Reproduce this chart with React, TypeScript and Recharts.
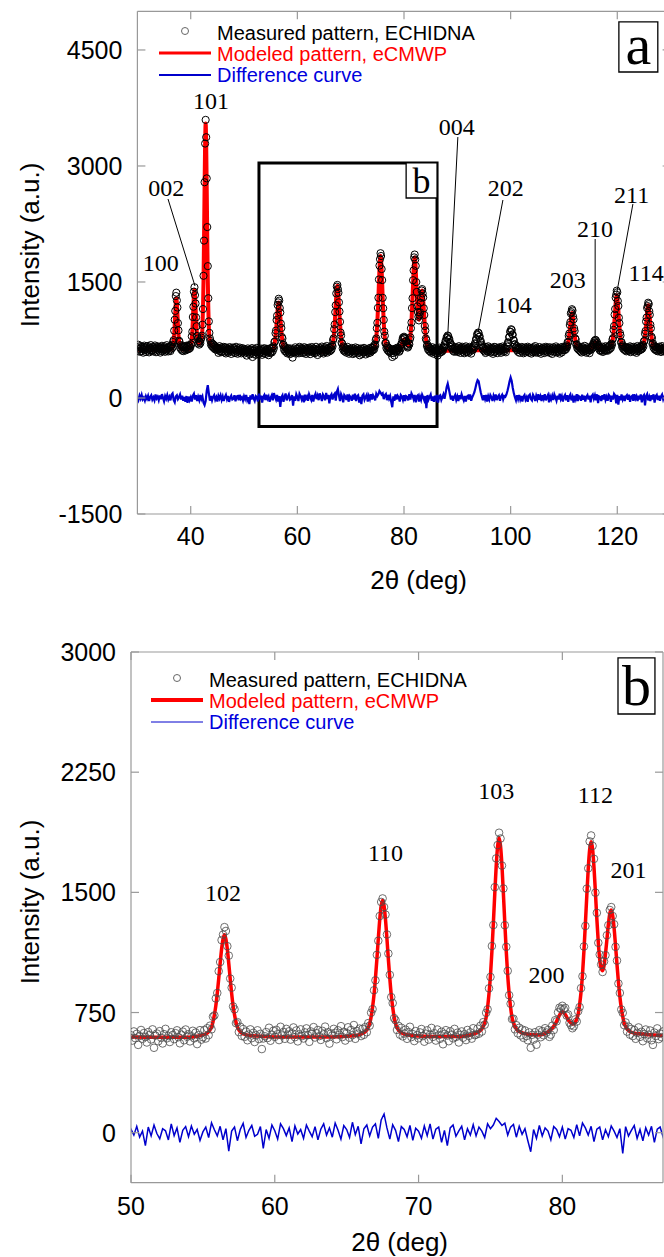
import React from 'react';
import {
  ComposedChart, Line, Scatter, XAxis, YAxis,
  ReferenceArea, ReferenceLine, ReferenceDot,
} from 'recharts';

const SANS = '"Liberation Sans", Arial, sans-serif';
const SERIF = '"Liberation Serif", "Times New Roman", serif';
const GREY = '#999';

// measured pattern (ECHIDNA), 2θ from 30.0°, one value every 0.1°, one row per degree
const meas30 = [
  655, 612, 688, 634, 598, 671, 645, 603, 662, 629,
  641, 586, 659, 677, 620, 648, 595, 666, 633, 612,
  672, 625, 590, 651, 638, 684, 607, 643, 618, 660,
  601, 654, 633, 679, 615, 592, 648, 667, 626, 639,
  663, 610, 645, 587, 656, 631, 675, 604, 649, 622,
  635, 668, 597, 640, 615, 683, 628, 651, 602, 657,
  621, 665, 607, 672, 638, 689, 651, 724, 748, 871,
  1012, 1126, 1318, 1362, 1262, 1170, 968, 874, 741, 726,
  652, 684, 629, 671, 613, 660, 606, 655, 627, 668,
  614, 650, 677, 625, 663, 631, 679, 636, 672, 648,
];
const meas40 = [
  697, 690, 798, 858, 1047, 1180, 1375, 1432, 1330, 1222,
  1042, 928, 801, 768, 705, 736, 690, 727, 708, 756,
  781, 806, 948, 1150, 1580, 2035, 2790, 3290, 3596, 3372,
  2840, 2210, 1705, 1290, 990, 842, 770, 738, 690, 712,
  668, 701, 655, 689, 642, 674, 628, 661, 637, 652,
  619, 648, 583, 633, 670, 607, 641, 592, 655, 626,
  602, 638, 661, 589, 627, 654, 576, 615, 649, 608,
  633, 587, 621, 658, 604, 639, 570, 626, 611, 652,
  595, 630, 647, 581, 618, 662, 599, 624, 572, 641,
  614, 588, 652, 606, 631, 577, 620, 645, 598, 628,
];
const meas50 = [
  608, 575, 632, 590, 617, 548, 603, 641, 586, 622,
  597, 563, 628, 611, 582, 645, 530, 606, 619, 571,
  634, 592, 557, 615, 648, 589, 603, 566, 627, 610,
  584, 621, 639, 596, 558, 612, 631, 577, 644, 599,
  615, 570, 602, 636, 589, 625, 553, 609, 640, 581,
  596, 641, 588, 652, 609, 668, 645, 724, 732, 838,
  872, 1008, 1065, 1202, 1236, 1283, 1259, 1164, 1105, 962,
  905, 788, 770, 684, 690, 628, 661, 604, 647, 598,
  631, 577, 612, 645, 590, 623, 566, 608, 639, 584,
  617, 522, 588, 602, 628, 591, 655, 574, 611, 636,
];
const meas60 = [
  598, 642, 615, 578, 661, 607, 629, 586, 648, 612,
  633, 581, 620, 657, 596, 638, 570, 614, 645, 603,
  588, 626, 651, 609, 567, 632, 618, 659, 594, 621,
  641, 603, 579, 636, 614, 662, 590, 627, 556, 619,
  607, 648, 624, 583, 639, 611, 665, 597, 630, 575,
  622, 658, 593, 641, 609, 672, 586, 635, 618, 650,
  603, 648, 611, 659, 627, 684, 668, 749, 771, 889,
  951, 1110, 1198, 1352, 1440, 1462, 1408, 1361, 1237, 1118,
  985, 846, 809, 715, 702, 641, 667, 612, 655, 601,
  619, 643, 586, 628, 661, 597, 615, 572, 634, 608,
];
const meas70 = [
  589, 626, 647, 603, 568, 618, 639, 581, 612, 654,
  598, 621, 575, 644, 609, 586, 630, 552, 617, 640,
  606, 571, 633, 612, 589, 648, 597, 624, 563, 611,
  632, 593, 615, 578, 641, 604, 626, 587, 652, 609,
  612, 649, 618, 667, 631, 690, 674, 748, 770, 901,
  972, 1165, 1296, 1532, 1712, 1795, 1872, 1836, 1667, 1524,
  1295, 1160, 1010, 858, 805, 709, 711, 645, 671, 620,
  655, 607, 644, 592, 638, 603, 577, 626, 530, 611,
  581, 627, 549, 612, 640, 596, 634, 608, 652, 625,
  641, 598, 612, 668, 641, 702, 695, 751, 780, 772,
];
const meas80 = [
  792, 770, 779, 731, 738, 686, 671, 652, 664, 707,
  694, 758, 784, 902, 976, 1162, 1290, 1523, 1650, 1818,
  1855, 1790, 1709, 1498, 1372, 1185, 1112, 1050, 1003, 1069,
  1108, 1232, 1295, 1390, 1408, 1352, 1301, 1160, 1074, 931,
  872, 769, 748, 671, 688, 631, 662, 612, 648, 603,
  641, 586, 623, 657, 598, 630, 571, 616, 644, 589,
  612, 638, 577, 548, 625, 603, 651, 584, 619, 596,
  632, 598, 641, 615, 660, 648, 694, 681, 740, 731,
  786, 776, 808, 799, 758, 762, 705, 713, 660, 684,
  638, 667, 611, 645, 598, 632, 659, 605, 641, 618,
];
const meas90 = [
  652, 594, 628, 670, 609, 637, 583, 646, 621, 663,
  600, 638, 615, 579, 654, 627, 668, 592, 631, 610,
  645, 587, 623, 661, 603, 636, 574, 649, 618, 657,
  628, 671, 655, 708, 697, 762, 759, 823, 812, 846,
  838, 791, 794, 728, 736, 671, 689, 640, 662, 618,
  647, 603, 631, 582, 659, 614, 640, 596, 668, 625,
  611, 650, 588, 634, 602, 645, 627, 571, 638, 661,
  593, 627, 656, 608, 639, 580, 622, 648, 604, 633,
  657, 612, 584, 641, 620, 666, 598, 629, 651, 607,
  632, 591, 638, 681, 664, 720, 714, 785, 791, 858,
];
const meas100 = [
  852, 889, 878, 823, 817, 749, 745, 688, 697, 641,
  650, 674, 618, 639, 596, 655, 627, 583, 646, 612,
  634, 660, 601, 625, 578, 642, 617, 653, 590, 629,
  606, 641, 663, 597, 628, 585, 650, 613, 637, 574,
  648, 619, 592, 656, 630, 604, 671, 588, 625, 643,
  611, 585, 638, 620, 659, 596, 634, 572, 642, 617,
  629, 653, 604, 581, 640, 615, 662, 598, 623, 650,
  592, 636, 619, 657, 583, 628, 606, 645, 570, 631,
  655, 609, 640, 596, 622, 667, 589, 634, 612, 648,
  601, 638, 574, 627, 653, 615, 589, 660, 623, 642,
];
const meas110 = [
  617, 658, 621, 669, 634, 681, 660, 724, 718, 805,
  833, 944, 981, 1093, 1110, 1148, 1131, 1055, 1017, 902,
  866, 771, 756, 688, 695, 644, 670, 628, 659, 616,
  649, 603, 636, 588, 662, 621, 645, 597, 630, 674,
  612, 640, 585, 627, 656, 601, 638, 619, 580, 647,
  621, 659, 632, 676, 655, 704, 690, 737, 718, 752,
  744, 703, 721, 670, 689, 641, 663, 618, 652, 607,
  641, 618, 663, 595, 637, 652, 609, 628, 670, 614,
  623, 655, 611, 664, 628, 671, 634, 679, 648, 702,
  686, 757, 774, 881, 931, 1078, 1150, 1298, 1336, 1388,
];
const meas120 = [
  1367, 1255, 1190, 1038, 968, 840, 809, 719, 722, 664,
  683, 639, 668, 625, 659, 616, 648, 603, 651, 628,
  654, 607, 641, 619, 668, 593, 632, 657, 611, 640,
  625, 662, 598, 636, 613, 650, 584, 629, 672, 606,
  649, 615, 660, 622, 665, 628, 673, 639, 688, 667,
  733, 740, 832, 866, 989, 1040, 1163, 1188, 1232, 1214,
  1122, 1076, 948, 901, 793, 774, 698, 706, 652, 675,
  631, 662, 620, 658, 611, 649, 603, 642, 626, 664,
  618, 647, 595, 633, 671, 608, 640, 621, 655, 599,
  629, 652, 604, 638, 617, 660, 592, 635, 648, 611,
];

// difference curve, 2θ from 30.0°, one value every 0.2°
const diff30 = [
  12, -25, 31, -8, 40, -18, 5, -35, 22, -12,
  28, -40, 15, 36, -22, 8, -30, 45, -5, 18,
  -28, 33, -15, 50, 2, -42, 25, -10, 38, -20,
  15, -30, 42, 60, -25, -55, 20, 35, -15, 10,
  45, -20, 30, -35, 12, -50, 25, -62, 18, -30,
];
const diff40 = [
  8, -45, 30, 55, -20, 35, -40, 15, -28, 40,
  -15, 20, -60, -90, -40, 90, 165, 60, -35, 25,
  -30, 15, 38, -22, 10, -45, 28, -8, 35, -25,
  20, -38, 12, 42, -15, 28, -50, 5, 30, -20,
  -10, 35, -42, 18, 25, -30, 40, -12, 8, -35,
];
const diff50 = [
  22, -15, 40, -28, 10, -80, 35, -20, 48, -5,
  -38, 25, 12, -45, 55, -18, 30, -60, 15, 38,
  -25, 42, -10, 20, -48, 5, 35, -30, 62, 18,
  -20, 40, -45, 25, -115, 10, 35, -50, 20, 58,
  -30, 15, 45, -22, -10, 38, -98, 20, -35, 48,
];
const diff60 = [
  12, -40, 55, 25, -18, 30, -55, 42, -8, 20,
  -35, 48, 10, -25, 38, -45, 22, 55, -15, 30,
  -28, 60, 15, -40, 45, 20, -30, 65, -12, 40,
  -70, 25, 48, -20, 35, 55, -35, 80, 117, 30,
  -40, 50, 15, -55, 38, 20, -25, 45, -48, 28,
];
const diff70 = [
  10, -35, 42, -18, 55, -40, 22, 35, -60, 15,
  -80, 30, 48, -22, 12, 40, -45, 25, -15, 50,
  -20, 35, 10, -30, 55, 25, 48, 90, 70, 45,
  60, -15, 35, 52, -28, 40, -10, 25, -50, -119,
  20, -35, 45, -20, 30, 10, -45, 38, 20, -25,
];
const diff80 = [
  35, -40, 25, 15, -30, 50, -20, 60, 30, -15,
  40, -55, 22, 35, -45, 18, -25, 42, 10, -30,
  25, -130, 38, -20, 15, 45, -35, 20, -50, 30,
  -15, 40, -60, 22, 35, -25, 12, 48, -10, 60,
  140, 185, 120, 50, -20, 30, -35, 15, 40, -25,
];
const diff90 = [
  20, -40, 35, -15, 48, 5, -30, 25, -45, 18,
  30, -20, 45, -35, 10, 40, 75, 130, 190, 230,
  215, 140, 70, 20, -30, 35, -15, 40, -45, 22,
  -20, 38, 12, -40, 30, -10, 45, -28, 15, 35,
  -35, 20, 42, -18, 25, 15, 45, 90, 150, 215,
];
const diff100 = [
  265, 220, 130, 60, 10, -30, 35, -15, 40, -20,
  25, -45, 18, 38, -22, 10, -50, 30, 45, -12,
  -30, 42, 15, -38, 28, -15, 50, -25, 20, -40,
  35, -10, 48, -30, 12, 40, -55, 22, -18, 30,
  -25, 45, 8, -35, 30, -20, 55, -12, 25, -45,
];
const diff110 = [
  18, 40, -28, 35, -50, 20, 45, -30, 12, -60,
  30, -15, 50, -40, 22, 10, -35, 42, -22, 28,
  -45, 15, 38, -20, 30, -55, 25, 45, -10, 35,
  -30, 48, -65, 20, 12, -40, 35, -18, 50, -25,
  15, -35, 40, 22, -48, 30, -20, 55, 35, -70,
];
const diff120 = [
  40, -85, 25, -30, 45, -15, 30, -40, 18, 35,
  -22, 42, -50, 15, 28, -35, 48, -10, 22, -40,
  30, -18, 45, -55, 20, 38, -95, 25, 50, -30,
  15, -40, 35, -20, 48, -60, 22, 40, -25, 30,
  -35, 20, 45, -15, 30, -50, 25, 10, -40, 35,
];

// modeled pattern (eCMWP), [2θ, intensity]
const modelLow: [number, number][] = [
  [30, 625], [32, 622], [34, 620], [35.5, 621], [36.3, 630], [36.5, 643], [36.7, 683], [36.8, 740],
  [36.9, 824], [37.0, 953], [37.1, 1101], [37.2, 1229], [37.3, 1290], [37.4, 1229], [37.5, 1101],
  [37.6, 953], [37.7, 824], [37.8, 740], [37.9, 683], [38.1, 643], [38.5, 628], [39.2, 626],
  [39.7, 635], [39.9, 648], [40.1, 694], [40.2, 760], [40.3, 858], [40.4, 1008], [40.5, 1180],
  [40.6, 1329], [40.7, 1400], [40.8, 1329], [40.9, 1180], [41.0, 1043], [41.1, 896], [41.2, 801],
  [41.3, 736], [41.5, 701], [41.8, 705], [42.0, 750], [42.1, 810], [42.2, 909], [42.3, 1158],
  [42.4, 1525], [42.5, 2083], [42.6, 2728], [42.7, 3286], [42.8, 3550], [42.9, 3286], [43.0, 2728],
  [43.1, 2083], [43.2, 1525], [43.3, 1158], [43.4, 909], [43.5, 800], [43.6, 738], [43.8, 688],
  [44.1, 668], [44.5, 656], [45, 645], [46, 630], [47.5, 615], [49, 605],
];
const modelMid: [number, number][] = [
  [50, 598], [52, 596], [54, 596], [54.5, 600], [55.1, 614], [55.3, 622], [55.5, 642], [55.6, 659],
  [55.7, 691], [55.8, 736], [55.9, 793], [56.0, 870], [56.1, 960], [56.2, 1056], [56.3, 1145],
  [56.4, 1209], [56.5, 1235], [56.6, 1209], [56.7, 1145], [56.8, 1056], [56.9, 960], [57.0, 870],
  [57.1, 793], [57.2, 736], [57.3, 691], [57.4, 659], [57.5, 642], [57.7, 622], [57.9, 614],
  [58.5, 605], [60, 598], [62, 597], [64, 598], [65.5, 605], [66.1, 620], [66.3, 631], [66.5, 657],
  [66.6, 681], [66.7, 723], [66.8, 783], [66.9, 860], [67.0, 963], [67.1, 1082], [67.2, 1211],
  [67.3, 1330], [67.4, 1416], [67.5, 1450], [67.6, 1416], [67.7, 1330], [67.8, 1211], [67.9, 1082],
  [68.0, 963], [68.1, 860], [68.2, 783], [68.3, 723], [68.4, 681], [68.5, 657], [68.7, 631],
  [68.9, 620], [69.5, 607], [71, 600], [73, 601], [73.6, 610], [74.2, 631], [74.4, 647], [74.6, 686],
  [74.7, 720], [74.8, 782], [74.9, 869], [75.0, 981], [75.1, 1130], [75.2, 1305], [75.3, 1491],
  [75.4, 1666], [75.5, 1790], [75.6, 1840], [75.7, 1790], [75.8, 1666], [75.9, 1491], [76.0, 1305],
  [76.1, 1130], [76.2, 981], [76.3, 869], [76.4, 782], [76.5, 720], [76.6, 686], [76.8, 647],
  [77.0, 631], [77.6, 614], [78.4, 610], [79.0, 628], [79.5, 678], [79.7, 715], [79.8, 733],
  [79.9, 748], [80.0, 755], [80.1, 750], [80.2, 738], [80.3, 722], [80.4, 705], [80.5, 694],
  [80.6, 684], [80.7, 679], [80.8, 680], [80.9, 689], [81.0, 710], [81.1, 740], [81.2, 799],
  [81.3, 878], [81.4, 987], [81.5, 1133], [81.6, 1302], [81.7, 1478], [81.8, 1647], [81.9, 1768],
  [82.0, 1816], [82.1, 1773], [82.2, 1658], [82.3, 1499], [82.4, 1333], [82.5, 1187], [82.6, 1081],
  [82.7, 1026], [82.8, 1011], [82.9, 1042], [83.0, 1116], [83.1, 1207], [83.2, 1299], [83.3, 1367],
  [83.4, 1390], [83.5, 1355], [83.6, 1275], [83.7, 1166], [83.8, 1050], [83.9, 941], [84.0, 849],
  [84.1, 778], [84.2, 724], [84.3, 685], [84.4, 663], [84.5, 648], [84.6, 638], [84.8, 627],
  [85.0, 621], [85.4, 617], [86, 612], [87, 607],
];
const modelHigh: [number, number][] = [
  [88, 610], [90, 614], [94, 616], [98, 618], [102, 619], [106, 620], [109.5, 627], [110.1, 632],
  [110.3, 638], [110.5, 653], [110.6, 666], [110.7, 690], [110.8, 724], [110.9, 767], [111.0, 824],
  [111.1, 892], [111.2, 964], [111.3, 1031], [111.4, 1079], [111.5, 1100], [111.6, 1079],
  [111.7, 1031], [111.8, 964], [111.9, 892], [112.0, 824], [112.1, 767], [112.2, 724], [112.3, 690],
  [112.4, 666], [112.5, 653], [112.7, 638], [112.9, 632], [113.5, 625], [114.5, 622], [114.9, 627],
  [115.3, 650], [115.5, 676], [115.6, 691], [115.7, 707], [115.8, 717], [115.9, 720], [116.0, 717],
  [116.1, 707], [116.2, 691], [116.3, 676], [116.5, 650], [116.9, 630], [117.8, 632], [118.3, 645],
  [118.5, 650], [118.7, 659], [118.9, 681], [119.0, 700], [119.1, 735], [119.2, 784], [119.3, 847],
  [119.4, 931], [119.5, 1029], [119.6, 1134], [119.7, 1232], [119.8, 1302], [119.9, 1330],
  [120.0, 1302], [120.1, 1232], [120.2, 1134], [120.3, 1029], [120.4, 931], [120.5, 847],
  [120.6, 784], [120.7, 735], [120.8, 700], [120.9, 681], [121.1, 659], [121.3, 650], [121.5, 645],
  [122, 638], [123, 632], [123.8, 637], [124.4, 645], [124.6, 652], [124.8, 670], [124.9, 685],
  [125.0, 714], [125.1, 754], [125.2, 805], [125.3, 874], [125.4, 954], [125.5, 1040], [125.6, 1120],
  [125.7, 1177], [125.8, 1200], [125.9, 1177], [126.0, 1120], [126.1, 1040], [126.2, 954],
  [126.3, 874], [126.4, 805], [126.5, 754], [126.6, 714], [126.7, 685], [126.8, 670], [127.0, 652],
  [127.2, 645], [127.8, 637], [129, 632], [130, 630],
];

// reflection labels (hkl) and their positions in data units
const hklA = [
  { t: '100', x: 34.4, y: 1747 }, { t: '002', x: 35.4, y: 2728 }, { t: '101', x: 43.8, y: 3853 },
  { t: '004', x: 89.9, y: 3517 }, { t: '202', x: 99.1, y: 2728 }, { t: '104', x: 100.6, y: 1214 },
  { t: '203', x: 110.7, y: 1538 }, { t: '210', x: 115.8, y: 2198 }, { t: '211', x: 122.7, y: 2637 },
  { t: '114', x: 125.4, y: 1629 },
];
const leadersA = [
  [35.74, 2573, 40.8, 1448], [90.1, 3374, 88.2, 800], [98.55, 2560, 93.9, 850],
  [115.85, 2056, 115.85, 770], [122.93, 2508, 119.9, 1356],
];
const hklB = [
  { t: '102', x: 56.4, y: 1497 }, { t: '110', x: 67.7, y: 1746 }, { t: '103', x: 75.4, y: 2134 },
  { t: '112', x: 82.3, y: 2108 }, { t: '201', x: 84.6, y: 1640 }, { t: '200', x: 78.9, y: 989 },
];

const xTicksA = [40, 60, 80, 100, 120];
const yTicksA = [-1500, 0, 1500, 3000, 4500];
const xTicksB = [50, 60, 70, 80];
const yTicksB = [0, 750, 1500, 2250, 3000];

const toPoints = (vals: number[], start: number, step: number) =>
  vals.map((y, i) => ({ x: Math.round((start + i * step) * 10) / 10, y }));

const measured = toPoints(
  [...meas30, ...meas40, ...meas50, ...meas60, ...meas70, ...meas80, ...meas90, ...meas100, ...meas110, ...meas120],
  30, 0.1,
);
const difference = toPoints(
  [...diff30, ...diff40, ...diff50, ...diff60, ...diff70, ...diff80, ...diff90, ...diff100, ...diff110, ...diff120],
  30, 0.2,
);
const modeled = [...modelLow, ...modelMid, ...modelHigh].map(([x, y]) => ({ x, y }));

const measB = measured.filter((p) => p.x >= 50 && p.x <= 87);
const diffB = difference.filter((p) => p.x >= 49.8 && p.x <= 87.2);
const modelB = modeled.filter((p) => p.x >= 49 && p.x <= 88);

const axisLine = { stroke: GREY, strokeWidth: 1.2 };

const bottomTick = (gap: number) => ({ x, y, payload }: any) => (
  <g>
    <line x1={x} x2={x} y1={y} y2={y - 8} stroke={GREY} strokeWidth={1.2} />
    <text x={x} y={y + gap} dy="0.36em" textAnchor="middle" fontSize={25} fontFamily={SANS} fill="#000">
      {payload.value}
    </text>
  </g>
);
const topTick = ({ x, y }: any) => <line x1={x} x2={x} y1={y} y2={y + 8} stroke={GREY} strokeWidth={1.2} />;
const leftTick = ({ x, y, payload }: any) => (
  <g>
    <line x1={x} x2={x + 8} y1={y} y2={y} stroke={GREY} strokeWidth={1.2} />
    <text x={x - 15} y={y} dy="0.36em" textAnchor="end" fontSize={25} fontFamily={SANS} fill="#000">
      {payload.value}
    </text>
  </g>
);
const rightTick = ({ x, y }: any) => <line x1={x} x2={x - 8} y1={y} y2={y} stroke={GREY} strokeWidth={1.2} />;

const xTitle = (cx: number, cy: number) => () => (
  <text x={cx} y={cy} dy="0.36em" textAnchor="middle" fontSize={26} fontFamily={SANS} fill="#000">
    2θ (deg)
  </text>
);
const yTitle = (cx: number, cy: number) => () => (
  <text x={cx} y={cy} dy="0.36em" textAnchor="middle" fontSize={26} fontFamily={SANS} fill="#000"
    transform={`rotate(-90 ${cx} ${cy})`}>
    Intensity (a.u.)
  </text>
);

const circleA = (p: any) => (
  <circle cx={p.cx} cy={p.cy} r={3.6} fill="none" stroke="#000" strokeWidth={1} />
);
const circleB = (p: any) => (
  <circle cx={p.cx} cy={p.cy} r={3.8} fill="none" stroke="#4a4a4a" strokeWidth={0.8} />
);

const hklLabel = (t: string) => ({ value: t, position: 'center' as const, fontSize: 24, fontFamily: SERIF, fill: '#000' });
const boxLabel = (t: string, size: number, dy: number) => ({
  value: t, position: 'center' as const, fontSize: size, fontFamily: SERIF, fill: '#000', dy,
});

// axes are 1px thick, margins are reduced by 1px so the plot area stays where it is
function PanelA() {
  return (
    <ComposedChart width={700} height={600} margin={{ top: 10.3, right: 28.4, bottom: 85, left: 136.4 }}>
      <XAxis dataKey="x" type="number" domain={[30, 130]} ticks={xTicksA} interval={0} allowDataOverflow
        height={1} tickSize={0} tickMargin={0} tickLine={false} axisLine={axisLine} tick={bottomTick(22)}
        label={xTitle(418.6, 580)} />
      <XAxis xAxisId="top" orientation="top" dataKey="x" type="number" domain={[30, 130]} ticks={xTicksA}
        interval={0} allowDataOverflow height={1} tickSize={0} tickMargin={0} tickLine={false}
        axisLine={axisLine} tick={topTick} />
      <YAxis dataKey="y" type="number" domain={[-1500, 5000]} ticks={yTicksA} interval={0} allowDataOverflow
        width={1} tickSize={0} tickMargin={0} tickLine={false} axisLine={axisLine} tick={leftTick}
        label={yTitle(30, 245)} />
      <YAxis yAxisId="right" orientation="right" type="number" domain={[-1500, 5000]} ticks={yTicksA}
        interval={0} allowDataOverflow width={1} tickSize={0} tickMargin={0} tickLine={false}
        axisLine={axisLine} tick={rightTick} />
      <ReferenceArea x1={52.8} x2={86.2} y1={-370} y2={3040} fill="none" stroke="#000" strokeWidth={3} />
      <ReferenceArea x1={80.4} x2={86.2} y1={2586} y2={3040} fill="#fff" fillOpacity={1} stroke="#000"
        strokeWidth={1.3} label={boxLabel('b', 36, 0)} />
      <ReferenceArea x1={120.3} x2={127.6} y1={4215} y2={4862} fill="#fff" fillOpacity={1} stroke="#000"
        strokeWidth={1.3} label={boxLabel('a', 58, -4)} />
      <Line data={modeled} dataKey="y" type="monotone" stroke="#ff0000" strokeWidth={4} dot={false}
        activeDot={false} isAnimationActive={false} />
      <Scatter data={measured} dataKey="y" shape={circleA} isAnimationActive={false} />
      <Line data={difference} dataKey="y" type="linear" stroke="#0000cc" strokeWidth={2.2} dot={false}
        activeDot={false} isAnimationActive={false} />
      {leadersA.map(([x1, y1, x2, y2], i) => (
        <ReferenceLine key={i} segment={[{ x: x1, y: y1 }, { x: x2, y: y2 }]} stroke="#000" strokeWidth={1} />
      ))}
      {hklA.map((h) => (
        <ReferenceDot key={h.t} x={h.x} y={h.y} r={0} stroke="none" fill="none" label={hklLabel(h.t)} />
      ))}
    </ComposedChart>
  );
}

function PanelB() {
  return (
    <ComposedChart width={664} height={657} margin={{ top: 51, right: 0, bottom: 73.3, left: 130 }}>
      <XAxis dataKey="x" type="number" domain={[50, 87]} ticks={xTicksB} interval={0} allowDataOverflow
        height={1} tickSize={0} tickMargin={0} tickLine={false} axisLine={axisLine} tick={bottomTick(23.5)}
        label={xTitle(399.6, 641.7)} />
      <XAxis xAxisId="top" orientation="top" dataKey="x" type="number" domain={[50, 87]} ticks={xTicksB}
        interval={0} allowDataOverflow height={1} tickSize={0} tickMargin={0} tickLine={false}
        axisLine={axisLine} tick={topTick} />
      <YAxis dataKey="y" type="number" domain={[-312, 3000]} ticks={yTicksB} interval={0} allowDataOverflow
        width={1} tickSize={0} tickMargin={0} tickLine={false} axisLine={axisLine} tick={leftTick}
        label={yTitle(30, 302)} />
      <YAxis yAxisId="right" orientation="right" type="number" domain={[-312, 3000]} ticks={yTicksB}
        interval={0} allowDataOverflow width={1} tickSize={0} tickMargin={0} tickLine={false}
        axisLine={axisLine} tick={rightTick} />
      <ReferenceArea x1={83.87} x2={86.44} y1={2613} y2={2963} fill="#fff" fillOpacity={1} stroke="#000"
        strokeWidth={1.3} label={boxLabel('b', 58, -2)} />
      <Line data={modelB} dataKey="y" type="monotone" stroke="#ff0000" strokeWidth={3.5} dot={false}
        activeDot={false} isAnimationActive={false} />
      <Scatter data={measB} dataKey="y" shape={circleB} isAnimationActive={false} />
      <Line data={diffB} dataKey="y" type="linear" stroke="#0000cc" strokeWidth={1.5} dot={false}
        activeDot={false} isAnimationActive={false} />
      {hklB.map((h) => (
        <ReferenceDot key={h.t} x={h.x} y={h.y} r={0} stroke="none" fill="none" label={hklLabel(h.t)} />
      ))}
    </ComposedChart>
  );
}

function SeriesKey({ left, top, red, blue }: { left: number; top: number; red: number; blue: number }) {
  return (
    <svg style={{ position: 'absolute', left, top }} width={340} height={66}>
      <circle cx={26} cy={9} r={3.5} fill="none" stroke="#666" strokeWidth={1} />
      <text x={58} y={11} dy="0.36em" fontSize={20} fontFamily={SANS} fill="#000">Measured pattern, ECHIDNA</text>
      <line x1={0} x2={52} y1={31} y2={31} stroke="#ff0000" strokeWidth={red} />
      <text x={58} y={32} dy="0.36em" fontSize={20} fontFamily={SANS} fill="#ff0000">Modeled pattern, eCMWP</text>
      <line x1={0} x2={52} y1={53} y2={53} stroke="#0000cc" strokeWidth={blue} />
      <text x={58} y={53} dy="0.36em" fontSize={20} fontFamily={SANS} fill="#0000dd">Difference curve</text>
    </svg>
  );
}

export default function App() {
  return (
    <div style={{ position: 'absolute', left: 0, top: 0, width: 664, height: 1257, overflow: 'hidden', background: '#fff' }}>
      <div style={{ position: 'absolute', left: 0, top: 0 }}>
        <PanelA />
      </div>
      <div style={{ position: 'absolute', left: 0, top: 600 }}>
        <PanelB />
      </div>
      <SeriesKey left={159} top={22} red={3} blue={2} />
      <SeriesKey left={151} top={669} red={4} blue={1} />
    </div>
  );
}
